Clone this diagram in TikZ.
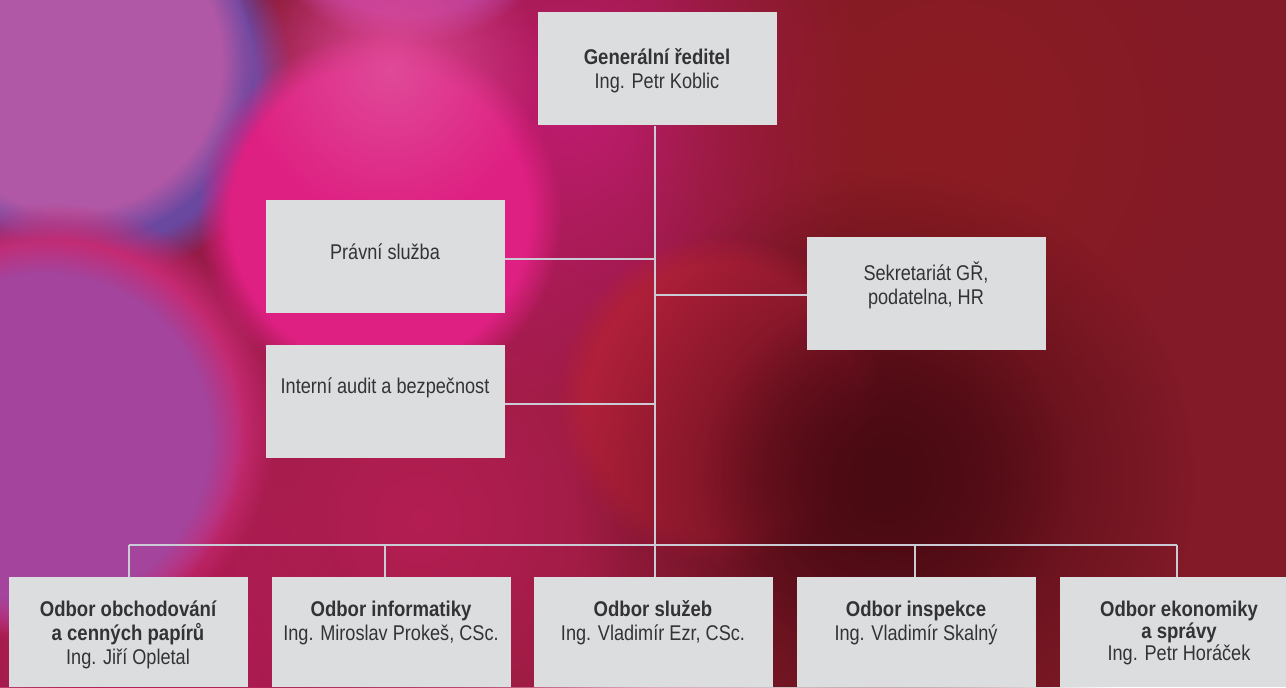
\documentclass[tikz,border=0pt]{standalone}
\usepackage{fontspec}
\setmainfont{Liberation Sans}[FakeStretch=0.85]
\newfontfamily\boldface{Liberation Sans}[FakeStretch=0.87]
\usetikzlibrary{fadings}
\pgfdeclareradialshading{softAshade}{\pgfpointorigin}{color(0bp)=(pgftransparent!0); color(20.5bp)=(pgftransparent!0); color(25bp)=(pgftransparent!100); color(50bp)=(pgftransparent!100)}
\pgfdeclarefading{softA}{\pgfuseshading{softAshade}}
\pgfdeclareradialshading{softBshade}{\pgfpointorigin}{color(0bp)=(pgftransparent!0); color(25bp)=(pgftransparent!100); color(50bp)=(pgftransparent!100)}
\pgfdeclarefading{softB}{\pgfuseshading{softBshade}}
\definecolor{bgbase}{HTML}{821A28}
\definecolor{boxfill}{HTML}{DCDDDF}
\definecolor{linecol}{HTML}{CBCBD6}
\definecolor{txt}{HTML}{333335}
\newcommand\bokeh[4]{\definecolor{tmpc}{HTML}{#1}\fill[tmpc, path fading=softA] (#2,#3) circle[radius={0.75*#4pt}];}
\newcommand\glow[4]{\definecolor{tmpc}{HTML}{#1}\fill[tmpc, path fading=softB] (#2,#3) circle[radius={0.75*#4pt}];}
\tikzset{
  box/.style={fill=boxfill, draw=none, inner sep=0pt, outer sep=0pt, anchor=north west,
    minimum width=179.25pt, minimum height=84.75pt},
  lowbox/.style={box, minimum height=82.5pt},
  lbl/.style={anchor=base, inner sep=0pt, align=center, text=txt,
    font=\fontsize{16}{18}\selectfont},
  conn/.style={draw=linecol, line width=1.6pt},
}
\newcommand\hd[1]{{\boldface\bfseries #1}}
\begin{document}
\begin{tikzpicture}[x=0.75pt, y=-0.75pt]
\useasboundingbox (0,0) rectangle (1286,687);
\begin{scope}
\clip (0,0) rectangle (1286,687);
\fill[bgbase] (0,0) rectangle (1286,687);
% broad regions
\glow{961A4A}{260}{330}{650}
\glow{961A4A}{200}{620}{400}
\glow{B41E52}{420}{520}{380}
\glow{B81C58}{110}{660}{260}
\glow{C01C70}{570}{110}{300}
\glow{8C1C22}{950}{130}{320}
% bokeh discs
\bokeh{6A48A0}{92}{82}{200}
\bokeh{B058A6}{72}{62}{182}
\bokeh{C62A72}{55}{425}{222}
\bokeh{A4449C}{45}{438}{200}
\bokeh{B43C94}{410}{-120}{165}
\bokeh{DE2082}{380}{216}{182}
\glow{E04A98}{390}{70}{150}
\bokeh{B0203A}{722}{400}{165}
\glow{4A0A12}{885}{480}{310}
\glow{4A0A12}{885}{475}{180}
\end{scope}
% boxes
\node[box] (gr) at (538,12) {};
\node[box] (pravni) at (266,200) {};
\node[box] (audit) at (266,345) {};
\node[box] (sekr) at (807,237) {};
\node[lowbox] (b1) at (9,577) {};
\node[lowbox] (b2) at (272,577) {};
\node[lowbox] (b3) at (534,577) {};
\node[lowbox] (b4) at (797,577) {};
\node[lowbox] (b5) at (1060,577) {};
% texts (base anchor = baseline of last line)
\node[lbl] (grt) at (657,88) {\hd{Generální ředitel}\\Ing. Petr Koblic};
\node[lbl] (pravnit) at (385,259) {Právní služba};
\node[lbl] (auditt) at (385,393) {Interní audit a bezpečnost};
\node[lbl] (sekrt) at (926,304) {Sekretariát GŘ,\\podatelna, HR};
\node[lbl] (b1t) at (128,664) {\hd{Odbor obchodování}\\\hd{a cenných papírů}\\Ing. Jiří Opletal};
\node[lbl] (b2t) at (391,640) {\hd{Odbor informatiky}\\Ing. Miroslav Prokeš, CSc.};
\node[lbl] (b3t) at (653,640) {\hd{Odbor služeb}\\Ing. Vladimír Ezr, CSc.};
\node[lbl] (b4t) at (916,640) {\hd{Odbor inspekce}\\Ing. Vladimír Skalný};
\node[lbl] (b5t) at (1179,660) {\hd{Odbor ekonomiky}\\[-1.5pt]\hd{a správy}\\[-1.5pt]Ing. Petr Horáček};
% connectors
\coordinate (top) at (655,126);
\coordinate (bus) at (655,545);
\coordinate (busL) at (129,545);
\coordinate (busR) at (1177,545);
\coordinate (bus2) at (385,545);
\coordinate (bus4) at (915,545);
\coordinate (jp) at (655,259);
\coordinate (ja) at (655,404);
\coordinate (js) at (655,295);
\draw[conn] (top) -- (bus);
\draw[conn] (pravni.east |- jp) -- (jp);
\draw[conn] (audit.east |- ja) -- (ja);
\draw[conn] (sekr.west |- js) -- (js);
\draw[conn] (busL) -- (busR);
\draw[conn] (busL) -- (busL |- b1.north);
\draw[conn] (bus2) -- (bus2 |- b2.north);
\draw[conn] (bus) -- (bus |- b3.north);
\draw[conn] (bus4) -- (bus4 |- b4.north);
\draw[conn] (busR) -- (busR |- b5.north);
\end{tikzpicture}
\end{document}
